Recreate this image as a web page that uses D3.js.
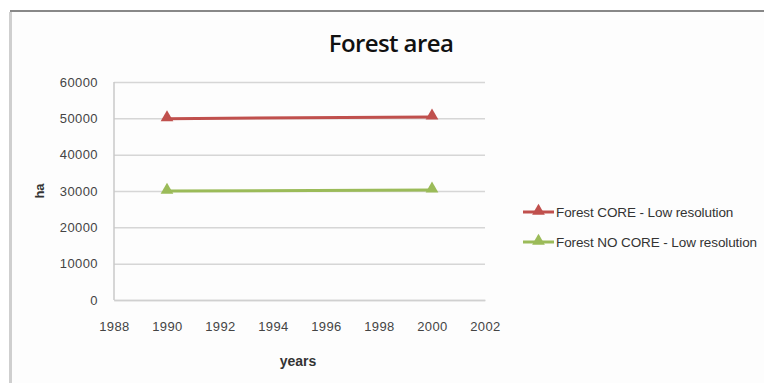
<!DOCTYPE html>
<html>
<head>
<meta charset="utf-8">
<script src="https://cdn.jsdelivr.net/npm/d3@7"></script>
<style>
  body { margin: 0; background: #fff; }
  svg { display: block; font-family: "Liberation Sans", Arial, sans-serif; }
</style>
</head>
<body>
<svg width="764" height="383"></svg>
<script>
// data
var years = [1990, 2000];
var coreValues = [49900, 50400];
var noCoreValues = [30000, 30300];
var seriesNames = ["Forest CORE - Low resolution", "Forest NO CORE - Low resolution"];
var seriesColors = ["#c0504d", "#9bbb59"];
var xTicks = [1988, 1990, 1992, 1994, 1996, 1998, 2000, 2002];
var yTicks = [0, 10000, 20000, 30000, 40000, 50000, 60000];

function main() {
    var svg = d3.select("svg");

    // chart frame
    svg.append("rect").attr("x", 10).attr("y", 10).attr("width", 760).attr("height", 380).attr("fill", "#fdfdfd");
    svg.append("rect").attr("x", 9).attr("y", 12).attr("width", 3).attr("height", 380).attr("fill", "#cfcfcf");
    svg.append("rect").attr("x", 10).attr("y", 10).attr("width", 760).attr("height", 2).attr("fill", "#888");

    var xScale = d3.scaleLinear().domain([1988, 2002]).range([114, 485]);
    var yScale = d3.scaleLinear().domain([0, 60000]).range([300, 82]);

    svg.append("text")
       .attr("x", 391)
       .attr("y", 52)
       .attr("text-anchor", "middle")
       .attr("font-family", "'Open Sans', sans-serif")
       .attr("font-size", "24px")
       .attr("font-weight", "600")
       .attr("letter-spacing", "-0.6")
       .attr("fill", "#111")
       .text("Forest area");

    // gridlines
    svg.append("g")
       .attr("transform", "translate(" + 114 + ",0)")
       .call(d3.axisLeft(yScale).tickValues(yTicks).tickSize(-(485 - 114)).tickFormat(d3.format("d")))
       .call(function(g) {
           g.select(".domain").remove();
           g.selectAll("line").attr("stroke", "#d6d6d6").attr("stroke-width", 1.5);
           g.selectAll("text")
            .attr("x", -16)
            .attr("font-size", "13px")
            .attr("letter-spacing", "0.4")
            .attr("fill", "#444");
       });

    // left axis line
    svg.append("line")
       .attr("x1", 114).attr("x2", 114)
       .attr("y1", yScale(60000)).attr("y2", yScale(0))
       .attr("stroke", "#c8c8c8").attr("stroke-width", 1.5);

    svg.append("g")
       .attr("transform", "translate(0," + 300 + ")")
       .call(d3.axisBottom(xScale).tickValues(xTicks).tickSize(0).tickFormat(d3.format("d")))
       .call(function(g) {
           g.select(".domain").attr("stroke", "#d0d0d0").attr("stroke-width", 1.5);
           g.selectAll("text")
            .attr("y", 22)
            .attr("font-size", "13px")
            .attr("letter-spacing", "0.4")
            .attr("fill", "#444");
       });

    svg.append("text")
       .attr("x", 298)
       .attr("y", 366)
       .attr("text-anchor", "middle")
       .attr("font-size", "14px")
       .attr("font-weight", "bold")
       .attr("fill", "#333")
       .text("years");

    svg.append("text")
       .attr("transform", "translate(44,191) rotate(-90)")
       .attr("text-anchor", "middle")
       .attr("font-size", "13px")
       .attr("font-weight", "bold")
       .attr("fill", "#333")
       .text("ha");

    var series = [coreValues, noCoreValues];
    var line = d3.line()
                 .x(function(d, i) { return xScale(years[i]); })
                 .y(function(d) { return yScale(d); });
    var tri = d3.symbol().type(d3.symbolTriangle).size(70);

    series.forEach(function(vals, s) {
        svg.append("path")
           .attr("d", line(vals))
           .attr("fill", "none")
           .attr("stroke", seriesColors[s])
           .attr("stroke-width", 3);
        svg.selectAll(".m" + s)
           .data(vals)
           .enter().append("path")
           .attr("class", "m" + s)
           .attr("d", tri)
           .attr("transform", function(d, i) {
               return "translate(" + xScale(years[i]) + "," + (yScale(d) - 1) + ")";
           })
           .attr("fill", seriesColors[s]);

        // legend
        var ly = 212 + s * 30;
        svg.append("line")
           .attr("x1", 523).attr("x2", 554)
           .attr("y1", ly).attr("y2", ly)
           .attr("stroke", seriesColors[s]).attr("stroke-width", 3);
        svg.append("path")
           .attr("d", tri)
           .attr("transform", "translate(538.5," + (ly - 1) + ")")
           .attr("fill", seriesColors[s]);
        svg.append("text")
           .attr("x", 556)
           .attr("y", ly + 5)
           .attr("font-size", "13.5px")
           .attr("letter-spacing", "-0.1")
           .attr("fill", "#333")
           .text(seriesNames[s]);
    });
}
main();
</script>
</body>
</html>
